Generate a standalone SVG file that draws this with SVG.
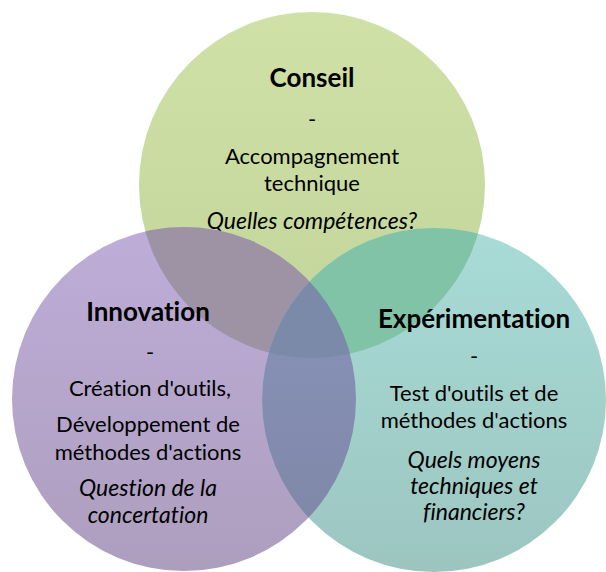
<svg xmlns="http://www.w3.org/2000/svg" width="606" height="572" viewBox="0 0 606 572">
<style>
text{font-family:Lato,"Open Sans","Liberation Sans",sans-serif;fill:#000;text-anchor:middle;font-variant-ligatures:none;font-feature-settings:"liga" 0}
.h{font-weight:bold;font-size:26px}
.b{font-size:22px}
.i{font-size:23px;font-style:italic}
</style>
<defs>
<linearGradient id="gG" x1="0" y1="0" x2="0" y2="1"><stop offset="0" stop-color="#d0e1a8"/><stop offset="1" stop-color="#c1d499"/></linearGradient>
<linearGradient id="gP" x1="0" y1="0" x2="0" y2="1"><stop offset="0" stop-color="#beadd8"/><stop offset="1" stop-color="#ad9ebe"/></linearGradient>
<linearGradient id="gT" x1="0" y1="0" x2="0" y2="1"><stop offset="0" stop-color="#a8dcd7"/><stop offset="1" stop-color="#9cc5c0"/></linearGradient>
<linearGradient id="gPT" gradientUnits="userSpaceOnUse" x1="0" y1="280" x2="0" y2="545"><stop offset="0" stop-color="#8893ba"/><stop offset="1" stop-color="#7f87a6"/></linearGradient>
<clipPath id="clipG"><circle cx="312" cy="185" r="173"/></clipPath>
<clipPath id="clipP"><circle cx="184" cy="399" r="172"/></clipPath>
</defs>
<g id="node-conseil">
<circle cx="312" cy="185" r="173" fill="url(#gG)"/>
<text class="h" x="312" y="87">Conseil</text>
<text class="b" x="312" y="127">-</text>
<text class="b" x="312" y="164">Accompagnement</text>
<text class="b" x="312" y="191">technique</text>
<text class="i" x="312" y="229">Quelles compétences?</text>
</g>
<g id="node-innovation">
<circle cx="184" cy="399" r="172" fill="url(#gP)"/>
<circle cx="184" cy="399" r="172" fill="#9d93a4" clip-path="url(#clipG)"/>
<text class="h" x="148" y="321">Innovation</text>
<text class="b" x="150" y="360">-</text>
<text class="b" x="150" y="396">Création d'outils,</text>
<text class="b" x="148" y="432">Développement de</text>
<text class="b" x="148" y="460">méthodes d'actions</text>
<text class="i" x="148" y="496">Question de la</text>
<text class="i" x="148" y="523">concertation</text>
</g>
<g id="node-experimentation">
<circle cx="434" cy="400" r="172" fill="url(#gT)"/>
<circle cx="434" cy="400" r="172" fill="#80c3a7" clip-path="url(#clipG)"/>
<circle cx="434" cy="400" r="172" fill="url(#gPT)" clip-path="url(#clipP)"/>
<g clip-path="url(#clipG)"><circle cx="434" cy="400" r="172" fill="#7b8aa9" clip-path="url(#clipP)"/></g>
<text class="h" x="474" y="328">Expérimentation</text>
<text class="b" x="474" y="364">-</text>
<text class="b" x="474" y="401">Test d'outils et de</text>
<text class="b" x="474" y="428">méthodes d'actions</text>
<text class="i" x="474" y="468">Quels moyens</text>
<text class="i" x="474" y="494">techniques et</text>
<text class="i" x="474" y="520">financiers?</text>
</g>
</svg>
